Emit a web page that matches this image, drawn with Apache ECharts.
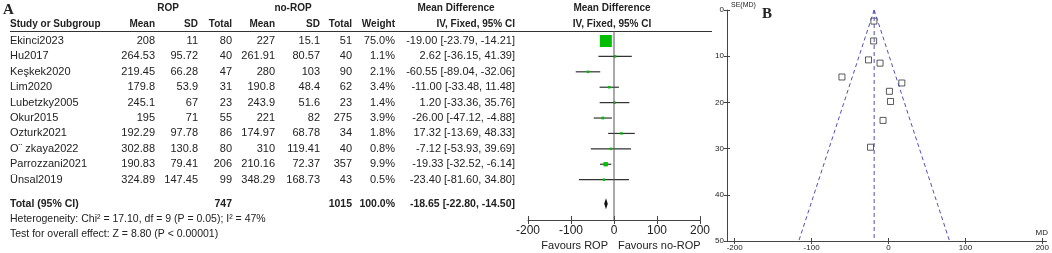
<!DOCTYPE html>
<html>
<head>
<meta charset="utf-8">
<script src="https://cdn.jsdelivr.net/npm/echarts@6/dist/echarts.min.js"></script>
<style>
html, body { margin: 0; padding: 0; background: #fff; }
#main { width: 1052px; height: 253px; }
</style>
</head>
<body>
<div id="main"></div>
<script>
// study table
var studies = ['Ekinci2023', 'Hu2017', 'Keşkek2020', 'Lim2020', 'Lubetzky2005', 'Okur2015',
  'Ozturk2021', 'O¨ zkaya2022', 'Parrozzani2021', 'Ünsal2019'];
var ropMean = [208, 264.53, 219.45, 179.8, 245.1, 195, 192.29, 302.88, 190.83, 324.89];
var ropSD = [11, 95.72, 66.28, 53.9, 67, 71, 97.78, 130.8, 79.41, 147.45];
var ropN = [80, 40, 47, 31, 23, 55, 86, 80, 206, 99];
var noMean = [227, 261.91, 280, 190.8, 243.9, 221, 174.97, 310, 210.16, 348.29];
var noSD = [15.1, 80.57, 103, 48.4, 51.6, 82, 68.78, 119.41, 72.37, 168.73];
var noN = [51, 40, 90, 62, 23, 275, 34, 40, 357, 43];
var weight = [75.0, 1.1, 2.1, 3.4, 1.4, 3.9, 1.8, 0.8, 9.9, 0.5];
var md = [-19.00, 2.62, -60.55, -11.00, 1.20, -26.00, 17.32, -7.12, -19.33, -23.40];
var ciLow = [-23.79, -36.15, -89.04, -33.48, -33.36, -47.12, -13.69, -53.93, -32.52, -81.60];
var ciHigh = [-14.21, 41.39, -32.06, 11.48, 35.76, -4.88, 48.33, 39.69, -6.14, 34.80];
var totalN = [747, 1015];
var pooled = [-18.65, -22.80, -14.50];

// funnel plot
var funnelSE = [2.4, 19.8, 14.5, 11.5, 17.6, 10.8, 15.8, 23.9, 6.7, 29.7];
var funnelLeft = [[-18.65, 0], [-116.65, 50]];
var funnelRight = [[-18.65, 0], [79.35, 50]];
var funnelMid = [[-18.65, 0], [-18.65, 50]];
var funnelXTicks = [-200, -100, 0, 100, 200];

var chart = echarts.init(document.getElementById('main'));
var FONT = '"Liberation Sans", Arial, sans-serif';
var TXT = '#222';
var AX = '#444';
var DASH = '#5050b8';
var totalRow = 10.56;

var forestData = md.map(function (m, i) {
  return [i, m, ciLow[i], ciHigh[i], weight[i]];
});

var option = {
  animation: false,
  grid: [
    { left: 528, top: 31, width: 172, height: 189 },
    { left: 727, top: 10, width: 320, height: 231 }
  ],
  xAxis: [
    {
      gridIndex: 0, type: 'value', min: -200, max: 200, interval: 100, position: 'bottom',
      axisLine: { onZero: false, lineStyle: { color: AX } },
      axisTick: { length: 4, lineStyle: { color: AX } },
      axisLabel: { fontFamily: FONT, fontSize: 12, color: TXT, margin: 5 },
      splitLine: { show: false }
    },
    {
      gridIndex: 0, type: 'value', min: -200, max: 200, interval: 100, position: 'bottom',
      axisLine: { show: false, onZero: false },
      axisTick: { inside: true, length: 4, lineStyle: { color: AX } },
      axisLabel: { show: false }, splitLine: { show: false }
    },
    {
      gridIndex: 1, type: 'value', min: -210, max: 205.5, position: 'bottom',
      axisLine: { onZero: false, lineStyle: { color: AX } },
      axisTick: { length: 3, customValues: funnelXTicks, lineStyle: { color: AX } },
      axisLabel: { customValues: funnelXTicks, fontFamily: FONT, fontSize: 8, color: TXT, margin: 3 },
      splitLine: { show: false }
    },
    {
      gridIndex: 1, type: 'value', min: -210, max: 205.5, position: 'bottom',
      axisLine: { show: false, onZero: false },
      axisTick: { inside: true, length: 3, customValues: funnelXTicks, lineStyle: { color: AX } },
      axisLabel: { show: false }, splitLine: { show: false }
    }
  ],
  yAxis: [
    { gridIndex: 0, type: 'value', inverse: true, min: -0.65, max: 11.62, show: false },
    {
      gridIndex: 1, type: 'value', inverse: true, min: 0, max: 50, interval: 10, position: 'left',
      axisLine: { show: true, onZero: false, lineStyle: { color: AX } },
      axisTick: { show: true, length: 3, lineStyle: { color: AX } },
      axisLabel: { fontFamily: FONT, fontSize: 8, color: TXT, margin: 3 },
      splitLine: { show: false }
    },
    {
      gridIndex: 1, type: 'value', inverse: true, min: 0, max: 50, interval: 10, position: 'left',
      axisLine: { show: false, onZero: false },
      axisTick: { show: true, inside: true, length: 3, lineStyle: { color: AX } },
      axisLabel: { show: false }, splitLine: { show: false }
    }
  ],
  series: [
    {
      // line of no effect
      type: 'line', xAxisIndex: 0, yAxisIndex: 0,
      data: [[0, -0.65], [0, 11.62]], symbol: 'none',
      lineStyle: { color: '#555', width: 1 }, silent: true
    },
    {
      type: 'custom', xAxisIndex: 0, yAxisIndex: 0,
      data: forestData,
      encode: { x: [1, 2, 3], y: 0 },
      renderItem: function (params, api) {
        var row = api.value(0);
        var c = api.coord([api.value(1), row]);
        var lo = api.coord([Math.max(api.value(2), -200), row]);
        var hi = api.coord([Math.min(api.value(3), 200), row]);
        var s = Math.max(2.5, 12 * Math.sqrt(api.value(4) / 75));
        return {
          type: 'group',
          children: [
            { type: 'line', shape: { x1: lo[0], y1: c[1], x2: hi[0], y2: c[1] }, style: { stroke: '#333', lineWidth: 1.2 } },
            { type: 'rect', shape: { x: c[0] - s / 2, y: c[1] - s / 2, width: s, height: s }, style: { fill: '#00bf00' } }
          ]
        };
      }
    },
    {
      type: 'custom', xAxisIndex: 0, yAxisIndex: 0,
      data: [[totalRow, pooled[0], pooled[1], pooled[2]]],
      encode: { x: [1, 2, 3], y: 0 },
      renderItem: function (params, api) {
        var row = api.value(0);
        var c = api.coord([api.value(1), row]);
        var lo = api.coord([api.value(2), row]);
        var hi = api.coord([api.value(3), row]);
        return {
          type: 'polygon',
          shape: { points: [[lo[0], c[1]], [c[0], c[1] - 5.5], [hi[0], c[1]], [c[0], c[1] + 5.5]] },
          style: { fill: '#111' }
        };
      }
    },
    {
      type: 'line', xAxisIndex: 2, yAxisIndex: 1, data: funnelLeft, symbol: 'none',
      lineStyle: { color: DASH, width: 1, type: [4, 3] }
    },
    {
      type: 'line', xAxisIndex: 2, yAxisIndex: 1, data: funnelRight, symbol: 'none',
      lineStyle: { color: DASH, width: 1, type: [4, 3] }
    },
    {
      type: 'line', xAxisIndex: 2, yAxisIndex: 1, data: funnelMid, symbol: 'none',
      lineStyle: { color: DASH, width: 1, type: [4, 3] }
    },
    {
      type: 'scatter', xAxisIndex: 2, yAxisIndex: 1,
      data: md.map(function (m, i) { return [m, funnelSE[i]]; }),
      symbol: 'rect', symbolSize: 6,
      itemStyle: { color: '#fff', borderColor: '#333', borderWidth: 1 }
    }
  ]
};

chart.setOption(option);

// table text, rows placed through the forest y axis
function rowY(r) { return chart.convertToPixel({ yAxisIndex: 0 }, r); }
function txt(x, y, s, align, bold, size, family) {
  return {
    type: 'text', x: x, y: y, silent: true,
    style: {
      text: s, fill: TXT, align: align || 'left', verticalAlign: 'middle',
      font: (bold ? 'bold ' : '') + (size || 11) + 'px ' + (family || FONT)
    }
  };
}
function ci(m, l, h) { return m.toFixed(2) + ' [' + l.toFixed(2) + ', ' + h.toFixed(2) + ']'; }

var cols = [155, 198, 232, 275, 320, 352, 395, 515];
var g = [];
var SERIF = '"Liberation Serif", "DejaVu Serif", serif';
g.push(txt(3, 10, 'A', 'left', true, 15, SERIF));
g.push(txt(762, 14, 'B', 'left', true, 15, SERIF));
g.push(txt(168, 8, 'ROP', 'center', true, 10));
g.push(txt(293, 8, 'no-ROP', 'center', true, 10));
g.push(txt(456, 8, 'Mean Difference', 'center', true, 10));
g.push(txt(612, 8, 'Mean Difference', 'center', true, 10));
var hy = 24;
g.push(txt(10, hy, 'Study or Subgroup', 'left', true, 10));
['Mean', 'SD', 'Total', 'Mean', 'SD', 'Total', 'Weight', 'IV, Fixed, 95% CI'].forEach(function (h, k) {
  g.push(txt(cols[k], hy, h, 'right', true, 10));
});
g.push(txt(612, hy, 'IV, Fixed, 95% CI', 'center', true, 10));
g.push({ type: 'line', silent: true, shape: { x1: 10, y1: 31.5, x2: 712, y2: 31.5 }, style: { stroke: '#333', lineWidth: 1 } });

studies.forEach(function (s, i) {
  var y = rowY(i);
  g.push(txt(10, y, s));
  var vals = [ropMean[i], ropSD[i], ropN[i], noMean[i], noSD[i], noN[i],
    weight[i].toFixed(1) + '%', ci(md[i], ciLow[i], ciHigh[i])];
  vals.forEach(function (v, k) { g.push(txt(cols[k], y, String(v), 'right')); });
});
var ty = rowY(totalRow);
g.push(txt(10, ty, 'Total (95% CI)', 'left', true, 10.5));
g.push(txt(cols[2], ty, String(totalN[0]), 'right', true, 10.5));
g.push(txt(cols[5], ty, String(totalN[1]), 'right', true, 10.5));
g.push(txt(cols[6], ty, '100.0%', 'right', true, 10.5));
g.push(txt(cols[7], ty, ci(pooled[0], pooled[1], pooled[2]), 'right', true, 10.5));
g.push(txt(10, ty + 15, 'Heterogeneity: Chi² = 17.10, df = 9 (P = 0.05); I² = 47%', 'left', false, 10.5));
g.push(txt(10, ty + 30, 'Test for overall effect: Z = 8.80 (P < 0.00001)', 'left', false, 10.5));
g.push(txt(608, 246, 'Favours ROP', 'right', false, 11));
g.push(txt(618, 246, 'Favours no-ROP', 'left', false, 11));
g.push(txt(731, 5, 'SE(MD)', 'left', false, 7));
g.push(txt(1048, 233, 'MD', 'right', false, 8));

chart.setOption({ graphic: g });
</script>
</body>
</html>
